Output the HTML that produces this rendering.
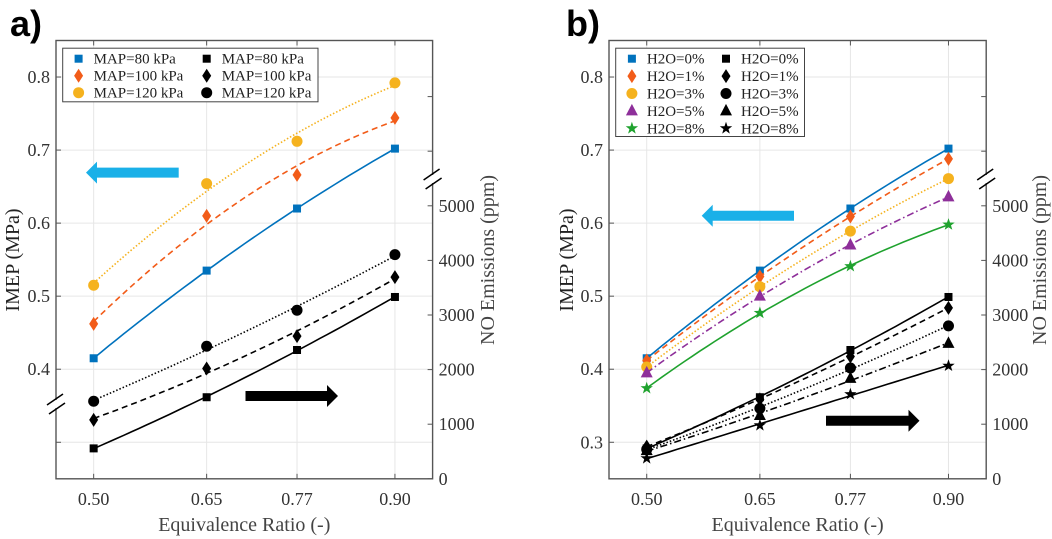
<!DOCTYPE html>
<html><head><meta charset="utf-8"><style>
html,body{margin:0;padding:0;background:#fff;}
svg{display:block;font-family:"Liberation Serif",serif;}
</style></head><body>
<svg id="chart" width="1052" height="539" viewBox="0 0 1052 539" xmlns="http://www.w3.org/2000/svg"></svg>
<script>
// ---- data ----
const xCats = [0.50, 0.65, 0.77, 0.90];
const xTickLabels = ["0.50", "0.65", "0.77", "0.90"];
const imepTicks = [0.3, 0.4, 0.5, 0.6, 0.7, 0.8];
const noTicks = [0, 1000, 2000, 3000, 4000, 5000, 6000, 7000];
const noTickLabels = ["0", "1000", "2000", "3000", "4000", "5000", "", ""];
// panel a
const aLabels = ["MAP=80 kPa", "MAP=100 kPa", "MAP=120 kPa"];
const aImep80 = [0.415, 0.535, 0.620, 0.702];
const aImep100 = [0.462, 0.610, 0.666, 0.744];
const aImep120 = [0.515, 0.654, 0.712, 0.792];
const aNo80 = [557, 1494, 2359, 3330];
const aNo100 = [1080, 2020, 2613, 3694];
const aNo120 = [1421, 2427, 3088, 4106];
// panel b
const bLabels = ["H2O=0%", "H2O=1%", "H2O=3%", "H2O=5%", "H2O=8%"];
const bImep0 = [0.415, 0.535, 0.620, 0.702];
const bImep1 = [0.412, 0.527, 0.609, 0.688];
const bImep3 = [0.403, 0.513, 0.589, 0.661];
const bImep5 = [0.395, 0.500, 0.570, 0.636];
const bImep8 = [0.374, 0.477, 0.541, 0.598];
const bNo0 = [557, 1494, 2359, 3330];
const bNo1 = [590, 1455, 2240, 3130];
const bNo3 = [540, 1290, 2030, 2800];
const bNo5 = [515, 1160, 1840, 2480];
const bNo8 = [375, 980, 1550, 2070];

const NS = "http://www.w3.org/2000/svg";
const svg = document.getElementById("chart");
function mk(tag, attrs, parent) {
  const e = document.createElementNS(NS, tag);
  for (const k in attrs) e.setAttribute(k, attrs[k]);
  (parent || svg).appendChild(e);
  return e;
}
const TOP = 40.5, BOT = 478.8;
function yImep(v) { return BOT - (v - 0.25) / 0.6 * (BOT - TOP); }
function yNo(v) { return BOT - v / 1000 * 54.6; }

function quadFit(xs, ys) {
  let S = [0,0,0,0,0], T = [0,0,0];
  for (let i = 0; i < xs.length; i++) {
    let p = 1;
    for (let k = 0; k < 5; k++) { S[k] += p; if (k < 3) T[k] += p * ys[i]; p *= xs[i]; }
  }
  const M = [[S[0],S[1],S[2],T[0]],[S[1],S[2],S[3],T[1]],[S[2],S[3],S[4],T[2]]];
  for (let i = 0; i < 3; i++) {
    for (let j = i + 1; j < 3; j++) {
      const f = M[j][i] / M[i][i];
      for (let k = i; k < 4; k++) M[j][k] -= f * M[i][k];
    }
  }
  const c = [0,0,0];
  for (let i = 2; i >= 0; i--) {
    let s = M[i][3];
    for (let k = i + 1; k < 3; k++) s -= M[i][k] * c[k];
    c[i] = s / M[i][i];
  }
  return x => c[0] + c[1] * x + c[2] * x * x;
}

function marker(g, type, cx, cy, color) {
  let e;
  if (type === "sq") e = mk("rect", {x: cx - 4, y: cy - 4, width: 8, height: 8, fill: color}, g);
  else if (type === "di") e = mk("polygon", {points: `${cx},${cy-7} ${cx+4.5},${cy} ${cx},${cy+7} ${cx-4.5},${cy}`, fill: color}, g);
  else if (type === "ci") e = mk("circle", {cx: cx, cy: cy, r: 5.5, fill: color}, g);
  else if (type === "tr") e = mk("polygon", {points: `${cx},${cy-7} ${cx+6},${cy+4.5} ${cx-6},${cy+4.5}`, fill: color}, g);
  else {
    let pts = [];
    for (let i = 0; i < 10; i++) {
      const r = i % 2 ? 2.6 : 6.5, a = -Math.PI / 2 + i * Math.PI / 5;
      pts.push((cx + r * Math.cos(a)).toFixed(1) + "," + (cy + r * Math.sin(a)).toFixed(1));
    }
    e = mk("polygon", {points: pts.join(" "), fill: color}, g);
  }
  
  
}

const dashes = {solid: "", dash: "6,4", dot: "1.5,2", dashdot: "7,3,1.5,3"};

function panel(p) {
  const g = mk("g", {});
  
  
  const x0 = p.left, x1 = p.right;
  const xs = v => x0 + (v - 0.45) / 0.5 * (x1 - x0);
  for (const v of xCats) mk("line", {x1: xs(v), x2: xs(v), y1: TOP, y2: BOT, stroke: "#e6e6e6", "stroke-width": 1}, g);
  for (const v of imepTicks) mk("line", {x1: x0, x2: x1, y1: yImep(v), y2: yImep(v), stroke: "#e6e6e6", "stroke-width": 1}, g);
  const fr = mk("rect", {x: x0, y: TOP, width: x1 - x0, height: BOT - TOP, fill: "none", stroke: "#555", "stroke-width": 1.4}, g);
  
  
  xCats.forEach((v, i) => {
    mk("line", {x1: xs(v), x2: xs(v), y1: BOT, y2: BOT - 5, stroke: "#555"}, g);
    mk("line", {x1: xs(v), x2: xs(v), y1: TOP, y2: TOP + 5, stroke: "#555"}, g);
    const t = mk("text", {x: xs(v), y: BOT + 26, "text-anchor": "middle", "font-size": 18, fill: "#333"}, g);
    t.textContent = xTickLabels[i];
    
    
  });
  imepTicks.forEach(v => {
    mk("line", {x1: x0, x2: x0 + 5, y1: yImep(v), y2: yImep(v), stroke: "#555"}, g);
    if (v >= p.minImepLabel) {
      const t = mk("text", {x: x0 - 6, y: yImep(v) + 6, "text-anchor": "end", "font-size": 18, fill: "#333"}, g);
      t.textContent = v.toFixed(1);
      
      
    }
  });
  noTicks.forEach((v, i) => {
    mk("line", {x1: x1, x2: x1 - 5, y1: yNo(v), y2: yNo(v), stroke: "#555"}, g);
    const t = mk("text", {x: x1 + 6, y: yNo(v) + 6, "font-size": 18, fill: "#333"}, g);
    t.textContent = noTickLabels[i];
    
    
  });
  let t = mk("text", {x: (x0 + x1) / 2, y: 531, "text-anchor": "middle", "font-size": 20, fill: "#444"}, g);
  t.textContent = "Equivalence Ratio (-)";
  
  
  t = mk("text", {x: 0, y: 0, "text-anchor": "middle", "font-size": 20, fill: "#222", transform: `translate(${p.imepTitleX},260) rotate(-90)`}, g);
  t.textContent = "IMEP (MPa)";
  
  
  t = mk("text", {x: 0, y: 0, "text-anchor": "middle", "font-size": 20, fill: "#444", transform: `translate(${p.noTitleX},260) rotate(-90)`}, g);
  t.textContent = "NO Emissions (ppm)";
  
  
  for (const b of p.breaks) {
    mk("rect", {x: b[0] - 6, y: b[1] - 4, width: 12, height: 8, fill: "#fff"}, g);
    mk("line", {x1: b[0] - 9, y1: b[1] + 1, x2: b[0] + 7, y2: b[1] - 10, stroke: "#000", "stroke-width": 1.5}, g);
    mk("line", {x1: b[0] - 7, y1: b[1] + 10, x2: b[0] + 9, y2: b[1] - 1, stroke: "#000", "stroke-width": 1.5}, g);
  }
  for (const s of p.series) {
    const sg = mk("g", {}, g);
    
    
    const f = quadFit(xCats, s.vals);
    let d = "";
    for (let i = 0; i <= 40; i++) {
      const xv = 0.5 + 0.4 * i / 40;
      d += (i ? "L" : "M") + xs(xv).toFixed(1) + "," + s.y(f(xv)).toFixed(1);
    }
    const ln = mk("path", {d: d, fill: "none", stroke: s.color, "stroke-width": 1.6, "stroke-dasharray": dashes[s.ls]}, sg);
    
    
    s.vals.forEach((v, i) => marker(sg, s.m, xs(xCats[i]), s.y(v), s.color));
  }
  const lg = mk("g", {}, g);
  
  
  const L = p.legend;
  mk("rect", {x: L.x, y: L.y, width: L.w, height: L.h, fill: "#fff", stroke: "#444", "stroke-width": 1}, lg);
  p.labels.forEach((lab, i) => {
    const ry = L.y + 10.5 + i * L.dy;
    [[L.c1, p.series[i].color], [L.c2, "#000"]].forEach(c => {
      const eg = mk("g", {}, lg);
      
      
      marker(eg, p.series[i].m, c[0], ry, c[1]);
      const tx = mk("text", {x: c[0] + 15, y: ry + 5, "font-size": 15, fill: "#222"}, eg);
      tx.textContent = lab;
    });
  });
  const arrow = (xa, xb, y, color, nm) => {
    const dir = xb > xa ? 1 : -1, hl = 11;
    const pts = `${xa},${y-5} ${xb - dir*hl},${y-5} ${xb - dir*hl},${y-11} ${xb},${y} ${xb - dir*hl},${y+11} ${xb - dir*hl},${y+5} ${xa},${y+5}`;
    const a = mk("polygon", {points: pts, fill: color}, g);
    
    
  };
  arrow(p.blueArrow[1], p.blueArrow[0], p.blueArrow[2], "#1ab0e8", "left-axis-arrow");
  arrow(p.blackArrow[0], p.blackArrow[1], p.blackArrow[2], "#000", "right-axis-arrow");
  const pl = mk("text", {x: p.labelX, y: 36, "font-size": 36, "font-weight": "bold", "font-family": "Liberation Sans, sans-serif", fill: "#000"}, g);
  pl.textContent = p.panelLabel;
  
  
}

const BLUE = "#0072BD", ORANGE = "#F25C19", YELLOW = "#F5B21E", PURPLE = "#8E2F9A", GREEN = "#1FA22E";
panel({
  name: "panel-a", panelLabel: "a)", labelX: 10, left: 56, right: 432.6, minImepLabel: 0.35,
  imepTitleX: 19, noTitleX: 494,
  breaks: [[56, 404], [432.6, 179]],
  series: [
    {name: "imep-80", vals: aImep80, y: yImep, color: BLUE, m: "sq", ls: "solid"},
    {name: "imep-100", vals: aImep100, y: yImep, color: ORANGE, m: "di", ls: "dash"},
    {name: "imep-120", vals: aImep120, y: yImep, color: YELLOW, m: "ci", ls: "dot"},
    {name: "no-80", vals: aNo80, y: yNo, color: "#000", m: "sq", ls: "solid"},
    {name: "no-100", vals: aNo100, y: yNo, color: "#000", m: "di", ls: "dash"},
    {name: "no-120", vals: aNo120, y: yNo, color: "#000", m: "ci", ls: "dot"}
  ],
  labels: aLabels,
  legend: {x: 62.7, y: 48.2, w: 255.3, h: 53.6, dy: 17, c1: 78.6, c2: 206.7},
  blueArrow: [86, 178.7, 172.6], blackArrow: [245.5, 338, 396]
});
panel({
  name: "panel-b", panelLabel: "b)", labelX: 566, left: 609, right: 986.2, minImepLabel: 0.25,
  imepTitleX: 573, noTitleX: 1046,
  breaks: [[986.2, 179]],
  series: [
    {name: "imep-0", vals: bImep0, y: yImep, color: BLUE, m: "sq", ls: "solid"},
    {name: "imep-1", vals: bImep1, y: yImep, color: ORANGE, m: "di", ls: "dash"},
    {name: "imep-3", vals: bImep3, y: yImep, color: YELLOW, m: "ci", ls: "dot"},
    {name: "imep-5", vals: bImep5, y: yImep, color: PURPLE, m: "tr", ls: "dashdot"},
    {name: "imep-8", vals: bImep8, y: yImep, color: GREEN, m: "st", ls: "solid"},
    {name: "no-0", vals: bNo0, y: yNo, color: "#000", m: "sq", ls: "solid"},
    {name: "no-1", vals: bNo1, y: yNo, color: "#000", m: "di", ls: "dash"},
    {name: "no-3", vals: bNo3, y: yNo, color: "#000", m: "ci", ls: "dot"},
    {name: "no-5", vals: bNo5, y: yNo, color: "#000", m: "tr", ls: "dashdot"},
    {name: "no-8", vals: bNo8, y: yNo, color: "#000", m: "st", ls: "solid"}
  ],
  labels: bLabels,
  legend: {x: 615.7, y: 48.2, w: 188.8, h: 88.3, dy: 17.4, c1: 631.9, c2: 726},
  blueArrow: [701.7, 794, 215.8], blackArrow: [826, 919.5, 420.8]
});
</script>
</body></html>
